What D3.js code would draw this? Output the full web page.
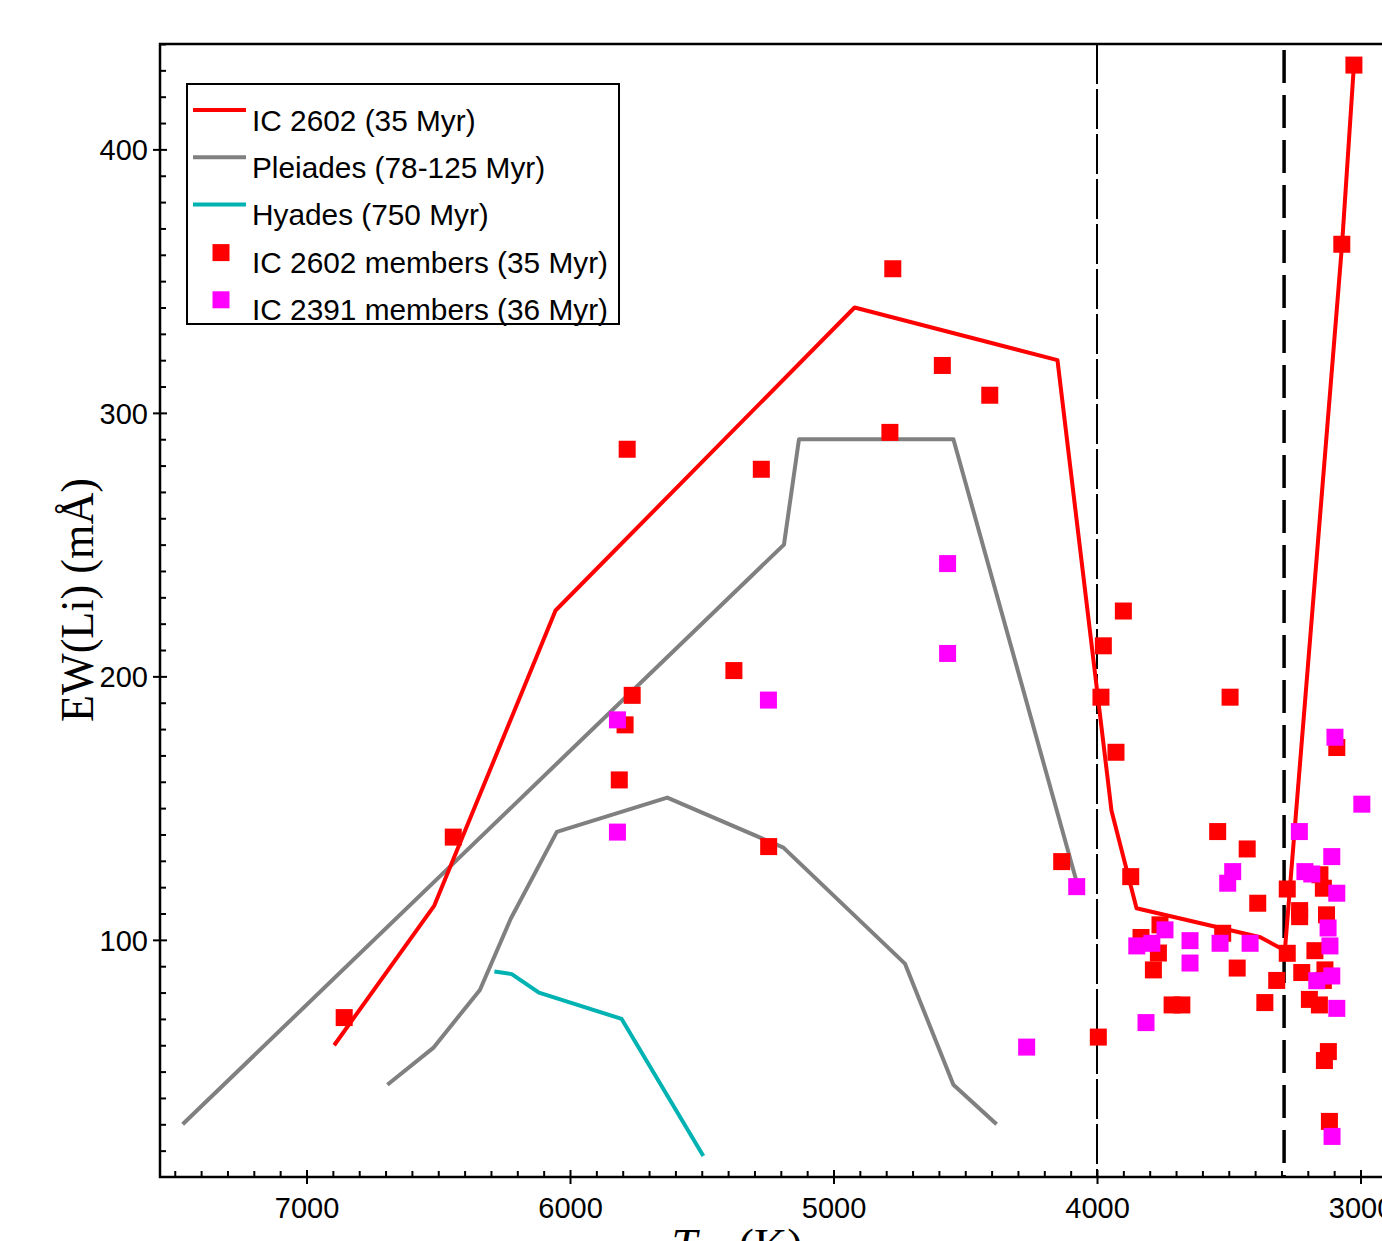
<!DOCTYPE html>
<html>
<head>
<meta charset="utf-8">
<script src="https://cdn.jsdelivr.net/npm/d3@7"></script>
<style>
    body { margin: 0; background: #fff; }
    svg { display: block; }
    .tick-label { font-family: "Liberation Sans", Arial, sans-serif; font-size: 29px; fill: #000; }
    .legend-text { font-family: "Liberation Sans", Arial, sans-serif; font-size: 29.8px; fill: #000; }
</style>
</head>
<body>
<svg id="chart" width="1382" height="1241"></svg>
<script>
// 数据 (Teff in K, EW(Li) in mÅ)
let ic2602Line = [[6895, 60], [6515, 113], [6055, 225], [4920, 340], [4150, 320], [3945, 149],
    [3850, 112], [3380, 101], [3287, 96], [3070, 364], [3025, 432]];
let pleiadesUpper = [[7470, 30], [5188, 250], [5131, 290], [4545, 290], [4080, 123]];
let pleiadesLower = [[6693, 45], [6519, 59], [6342, 81], [6225, 108], [6050, 141], [5631, 154],
    [5190, 135], [4729, 91], [4545, 45], [4381, 30]];
let hyadesLine = [[6287, 88], [6221, 87], [6118, 80], [5804, 70], [5494, 18]];

let ic2602Members = [[6857, 70.5], [6443, 139], [5813, 160.7], [5783, 286.2], [5274, 278.6], [5378, 202.2],
    [5764, 192.8], [5791, 181.6], [4775, 354.7], [4587, 318], [4407, 306.7], [4786, 292.6], [5246, 135.4],
    [4134, 129.7], [3900, 224.8], [3976, 211.6], [3985, 192.1], [3495, 192.1], [3928, 171.2], [3090, 173],
    [3542, 141.1], [3430, 134.5], [3872, 124], [3154, 124.7], [3141, 119.6], [3278, 119.3], [3390, 113.9],
    [3231, 111.1], [3231, 108.8], [3129, 109.5], [3761, 105.7], [3523, 102.5], [3833, 100.9], [3767, 95],
    [3786, 88.6], [3278, 94.9], [3468, 89.3], [3173, 95.9], [3318, 84.6], [3223, 87.6], [3135, 88.6],
    [3141, 84.6], [3715, 75.3], [3678, 75.3], [3363, 76.2], [3194, 77.4], [3156, 75.3], [3995, 63.1],
    [3122, 57.6], [3137, 54.2], [3118, 31.1], [3071, 364], [3025, 432]];
let ic2391Members = [[5820, 140.9], [5820, 183.5], [5247, 191], [4567, 242.8], [4567, 208.7], [4077, 120.2],
    [4267, 59.3], [3814, 68.6], [3090, 74], [3108, 25.4], [3097, 176.9], [2995, 151.5], [3232, 141.1],
    [3109, 131.6], [3485, 125.9], [3504, 121.5], [3211, 125.9], [3185, 125], [3090, 117.7], [3742, 103.8],
    [3647, 99.7], [3533, 98.7], [3419, 98.7], [3849, 97.7], [3792, 98.7], [3647, 91.2], [3123, 104.5],
    [3116, 97.7], [3166, 84.5], [3109, 86.3]];

let boundaryTeff = [4000, 3290];

let xMajor = [7000, 6000, 5000, 4000, 3000];
let yMajor = [100, 200, 300, 400];

let legendItems = [
    {label: 'IC 2602 (35 Myr)', type: 'line', color: '#ff0000'},
    {label: 'Pleiades (78-125 Myr)', type: 'line', color: '#808080'},
    {label: 'Hyades (750 Myr)', type: 'line', color: '#00b2b2'},
    {label: 'IC 2602 members (35 Myr)', type: 'square', color: '#ff0000'},
    {label: 'IC 2391 members (36 Myr)', type: 'square', color: '#ff00ff'}
];

// 画布
let svg = d3.select('#chart');
let plotLeft = 160, plotTop = 44, plotBottom = 1177;

let x = d3.scaleLinear().domain([7556, 2756]).range([plotLeft, 1424.8]);
let y = d3.scaleLinear().domain([10, 440]).range([plotBottom, plotTop]);

// 小刻度
let xMinor = d3.range(7500, 2700, -100).filter(d => xMajor.indexOf(d) < 0);
let yMinor = d3.range(20, 441, 10).filter(d => yMajor.indexOf(d) < 0);

let gAxes = svg.append('g');

// x 轴
gAxes.append('g')
    .attr('transform', 'translate(0,' + plotBottom + ')')
    .call(d3.axisBottom(x).tickValues(xMinor).tickSize(-6).tickFormat(''))
    .call(g => g.select('.domain').remove())
    .call(g => g.selectAll('line').attr('stroke', '#000').attr('stroke-width', 2));
gAxes.append('g')
    .attr('transform', 'translate(0,' + plotBottom + ')')
    .call(d3.axisBottom(x).tickValues(xMajor).tickSize(7).tickFormat(d3.format('d')))
    .call(g => g.select('.domain').remove())
    .call(g => g.selectAll('line').attr('y1', -7).attr('stroke', '#000').attr('stroke-width', 2))
    .call(g => g.selectAll('text').attr('class', 'tick-label').attr('y', 41).attr('dy', 0));

// y 轴
gAxes.append('g')
    .attr('transform', 'translate(' + plotLeft + ',0)')
    .call(d3.axisLeft(y).tickValues(yMinor).tickSize(-6).tickFormat(''))
    .call(g => g.select('.domain').remove())
    .call(g => g.selectAll('line').attr('stroke', '#000').attr('stroke-width', 2));
gAxes.append('g')
    .attr('transform', 'translate(' + plotLeft + ',0)')
    .call(d3.axisLeft(y).tickValues(yMajor).tickSize(7).tickFormat(d3.format('d')))
    .call(g => g.select('.domain').remove())
    .call(g => g.selectAll('line').attr('x1', 7).attr('stroke', '#000').attr('stroke-width', 2))
    .call(g => g.selectAll('text').attr('class', 'tick-label').attr('x', -12).attr('dy', '0.36em'));

// 去掉 d3 默认字体
gAxes.selectAll('g').attr('font-size', null).attr('font-family', null);

// 边框
svg.append('path')
    .attr('d', 'M1420,' + plotTop + 'H' + plotLeft + 'V' + plotBottom + 'H1420')
    .attr('fill', 'none')
    .attr('stroke', '#000')
    .attr('stroke-width', 2.5);

// 虚线
svg.append('line')
    .attr('x1', x(boundaryTeff[0])).attr('x2', x(boundaryTeff[0]))
    .attr('y1', plotTop).attr('y2', plotBottom)
    .attr('stroke', '#000').attr('stroke-width', 2)
    .attr('stroke-dasharray', '40,5');
svg.append('line')
    .attr('x1', x(boundaryTeff[1])).attr('x2', x(boundaryTeff[1]))
    .attr('y1', plotTop + 6).attr('y2', plotBottom)
    .attr('stroke', '#000').attr('stroke-width', 3.5)
    .attr('stroke-dasharray', '33,12');

// 折线
let line = d3.line().x(d => x(d[0])).y(d => y(d[1]));
let gLines = svg.append('g').attr('fill', 'none').attr('stroke-width', 4).attr('stroke-linejoin', 'round');
gLines.append('path').datum(pleiadesUpper).attr('d', line).attr('stroke', '#808080');
gLines.append('path').datum(pleiadesLower).attr('d', line).attr('stroke', '#808080');
gLines.append('path').datum(hyadesLine).attr('d', line).attr('stroke', '#00b2b2');
gLines.append('path').datum(ic2602Line).attr('d', line).attr('stroke', '#ff0000');

// 散点
let sq = 17;
svg.append('g').selectAll('rect')
    .data(ic2602Members)
    .enter()
    .append('rect')
    .attr('x', d => x(d[0]) - sq / 2)
    .attr('y', d => y(d[1]) - sq / 2)
    .attr('width', sq).attr('height', sq)
    .attr('fill', '#ff0000');
svg.append('g').selectAll('rect')
    .data(ic2391Members)
    .enter()
    .append('rect')
    .attr('x', d => x(d[0]) - sq / 2)
    .attr('y', d => y(d[1]) - sq / 2)
    .attr('width', sq).attr('height', sq)
    .attr('fill', '#ff00ff');

// 图例
let gLegend = svg.append('g');
gLegend.append('rect')
    .attr('x', 187).attr('y', 84)
    .attr('width', 432).attr('height', 240)
    .attr('fill', '#fff')
    .attr('stroke', '#000').attr('stroke-width', 2);
legendItems.forEach(function (item, i) {
    let cy = 110 + i * 47.2;
    if (item.type === 'line') {
        gLegend.append('line')
            .attr('x1', 193).attr('x2', 246)
            .attr('y1', cy).attr('y2', cy)
            .attr('stroke', item.color).attr('stroke-width', 4);
    } else {
        gLegend.append('rect')
            .attr('x', 221 - sq / 2).attr('y', cy + 1 - sq / 2)
            .attr('width', sq).attr('height', sq)
            .attr('fill', item.color);
    }
    gLegend.append('text')
        .attr('class', 'legend-text')
        .attr('x', 252)
        .attr('y', 131 + i * 47.2)
        .text(item.label);
});

// 坐标轴标题
svg.append('text')
    .attr('transform', 'translate(93,600) rotate(-90)')
    .attr('text-anchor', 'middle')
    .attr('textLength', 244)
    .attr('lengthAdjust', 'spacingAndGlyphs')
    .style('font-family', '"Liberation Serif", "Times New Roman", serif')
    .style('font-size', '46px')
    .text('EW(Li) (mÅ)');

let xTitle = svg.append('text')
    .attr('x', 737).attr('y', 1261)
    .attr('text-anchor', 'middle')
    .style('font-family', '"Liberation Serif", "Times New Roman", serif')
    .style('font-size', '46px');
xTitle.append('tspan').style('font-style', 'italic').text('T');
xTitle.append('tspan').attr('dy', 8).style('font-size', '30px').style('font-style', 'italic').text('eff');
xTitle.append('tspan').attr('dy', -8).text(' (K)');
</script>
</body>
</html>
